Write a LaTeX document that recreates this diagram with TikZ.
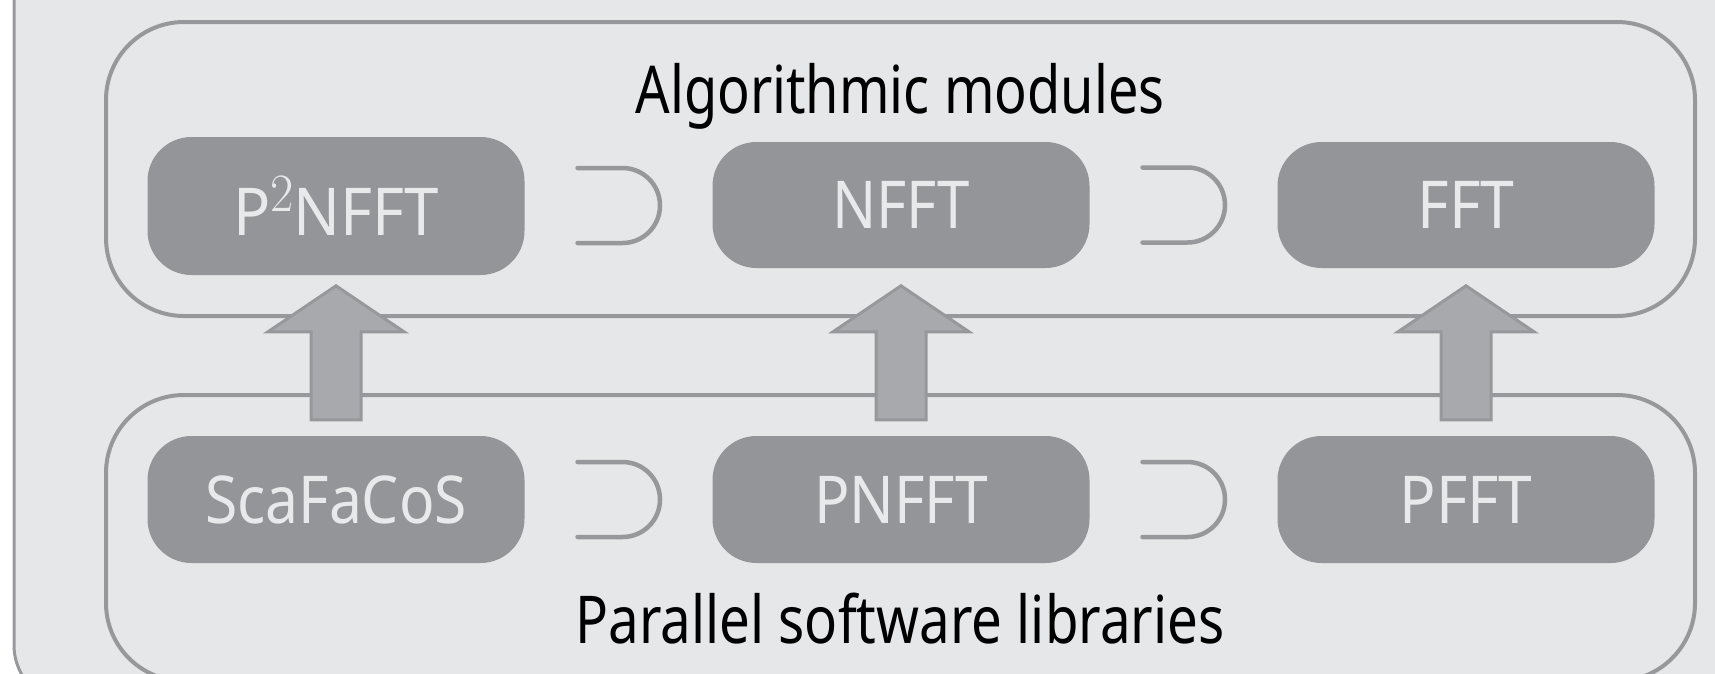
\documentclass[tikz,border=0pt]{standalone}
\usepackage{fontspec}
\usepackage{graphicx}
\setmainfont{Noto Sans}
\usetikzlibrary{calc}
\definecolor{bgc}{HTML}{E6E7E8}
\definecolor{framec}{HTML}{97989B}
\definecolor{boxc}{HTML}{949598}
\definecolor{boxtextc}{HTML}{E8E9EA}
\definecolor{arrowc}{HTML}{A8A9AC}
\newcommand\fitto[2]{\resizebox{#1pt}{\height}{#2}}
\newcommand\suptwo{\raisebox{24pt}{\fontfamily{lmr}\fontsize{54}{54}\selectfont 2}}
\tikzset{
  container/.style={draw=framec, line width=4pt, rounded corners=78pt,
    minimum width=1589pt, inner sep=0pt},
  modbox/.style={fill=boxc, text=boxtextc, rounded corners=44pt,
    minimum width=377pt, minimum height=126pt, inner sep=0pt,
    font=\fontsize{66}{70}\selectfont},
  titletext/.style={text=black, inner sep=0pt, anchor=base,
    font=\fontsize{66}{70}\selectfont},
  supset/.style={draw=framec, line width=4.5pt, line cap=round},
  blockarrow/.style={draw=framec, fill=arrowc, line width=3pt, line join=miter},
}
\begin{document}
\begin{tikzpicture}[x=1pt,y=-1pt]
\useasboundingbox (0,0) rectangle (1715,673);
\clip (0,0) rectangle (1715,673);
% outer frame
\draw[framec, fill=bgc, line width=3pt, rounded corners=60pt] (14,-120) rectangle (1800,705);
% containers
\node[container, minimum height=294pt] (upper) at (900.5,169) {};
\node[container, minimum height=286pt] (lower) at (900.5,538) {};
% titles
\node[titletext] (t1) at (900,113) {\fitto{529}{Algorithmic modules}};
\node[titletext] (t2) at (900,643) {\fitto{649}{Parallel software libraries}};
% modules
\node[modbox, minimum height=138pt] (p2nfft) at (336,206) {\fitto{206}{P\suptwo NFFT}};
\node[modbox] (nfft) at (901,205) {\fitto{137}{NFFT}};
\node[modbox] (fft) at (1466,205) {\fitto{97}{FFT}};
\node[modbox, minimum height=127pt] (scafacos) at (336,499.5) {\fitto{262}{ScaFaCoS}};
\node[modbox, minimum height=127pt] (pnfft) at (901,499.5) {\fitto{174}{PNFFT}};
\node[modbox, minimum height=127pt] (pfft) at (1466,499.5) {\fitto{133}{PFFT}};
% superset symbols
\foreach \a/\b in {p2nfft/nfft, nfft/fft, scafacos/pnfft, pnfft/pfft}{
  \coordinate (m) at ($(\a.east)!0.5!(\b.west)$);
  \draw[supset] ($(m)+(-41,-37.5)$) -- ++(45,0)
     arc[start angle=-90, end angle=90, radius=37.5] -- ++(-45,0);
}
% block arrows
\foreach \a/\b in {scafacos/p2nfft, pnfft/nfft, pfft/fft}{
  \draw[blockarrow] ($(\a.north)+(-25,-16)$) -- ++(0,-88) -- ++(-43,0)
    -- ++(68,-46) -- ++(68,46) -- ++(-43,0) -- ++(0,88) -- cycle;
}
\end{tikzpicture}
\end{document}
